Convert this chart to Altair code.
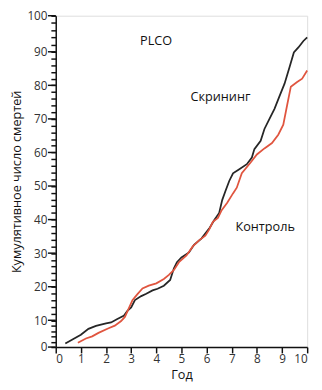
import altair as alt
import pandas as pd

# Screening (black) curve
scr_t = [0.38, 0.7, 1.0, 1.3, 1.6, 2.0, 2.2, 2.45, 2.7, 2.85, 3.0, 3.15, 3.4, 3.6, 3.85,
         4.05, 4.3, 4.55, 4.7, 4.82, 5.0, 5.3, 5.5, 5.8, 6.1, 6.3, 6.5, 6.62, 6.75, 6.9,
         7.05, 7.3, 7.6, 7.8, 7.9, 8.15, 8.3, 8.5, 8.7, 8.9, 9.1, 9.3, 9.47, 9.65, 9.85, 10.0]
scr_v = [1.3, 3.0, 4.6, 6.8, 7.9, 8.8, 9.2, 10.4, 11.3, 12.8, 13.8, 16.0, 17.2, 17.9, 18.9,
         19.4, 20.3, 22.0, 25.5, 27.3, 28.7, 30.2, 32.5, 34.4, 37.3, 39.8, 42.0, 45.8, 48.5, 51.5,
         53.8, 55.0, 56.5, 58.5, 61.0, 63.5, 67.0, 70.0, 73.0, 76.8, 80.5, 85.5, 89.8, 91.2, 93.0, 94.0]

# Control (red) curve
ctl_t = [0.88, 1.2, 1.45, 1.7, 2.1, 2.35, 2.6, 2.75, 2.9, 3.05, 3.25, 3.45, 3.7, 4.0, 4.3,
         4.5, 4.7, 4.9, 5.2, 5.45, 5.7, 5.95, 6.1, 6.25, 6.45, 6.6, 6.82, 7.05, 7.2, 7.4,
         7.75, 8.0, 8.3, 8.6, 8.85, 9.05, 9.2, 9.35, 9.6, 9.8, 10.0]
ctl_v = [1.6, 3.2, 4.0, 5.3, 7.0, 8.0, 9.7, 11.0, 13.5, 16.0, 17.8, 19.5, 20.3, 21.0, 22.3,
         23.5, 25.0, 27.3, 29.3, 32.0, 33.8, 35.2, 37.0, 39.3, 40.5, 42.8, 45.0, 47.8, 49.5, 53.8,
         57.0, 59.4, 61.2, 62.8, 65.3, 68.3, 74.0, 79.6, 81.0, 82.0, 84.4]

series_names = ["Скрининг", "Контроль"]
series_colors = ["#262626", "#e0553f"]

ann_text = ["PLCO", "Скрининг", "Контроль"]
ann_t = [3.99, 6.55, 8.33]
ann_v = [93.0, 76.4, 37.8]

x_ticks = list(range(0, 11))
y_minor = list(range(0, 101, 2))
y_major = list(range(0, 101, 10))

W, H = 258, 340

df = pd.concat([
    pd.DataFrame({"t": scr_t, "v": scr_v, "s": series_names[0], "o": range(len(scr_t))}),
    pd.DataFrame({"t": ctl_t, "v": ctl_v, "s": series_names[1], "o": range(len(ctl_t))}),
])
ann = pd.DataFrame({"t": ann_t, "v": ann_v, "label": ann_text})
major = pd.DataFrame({"v": y_major})

FONT = "Open Sans"
AX = "#111"

xscale = alt.Scale(domain=[0, 10], nice=False, zero=False)
yscale = alt.Scale(domain=[0, 10, 90, 100], range=[H, H - 27.5, 37, 0], nice=False, zero=False)

xaxis = alt.Axis(title="Год", values=x_ticks, format="d", grid=False, ticks=True, tickSize=6,
                 tickWidth=1.5, domainWidth=1.5,
                 labelPadding=1, labelFontSize=12, titleFontSize=13, titleFontWeight="normal",
                 titleX=W / 2, titleY=28, titleBaseline="middle", titleColor="#111",
                 labelColor="#333", domainColor=AX, tickColor=AX, labelFont=FONT,
                 titleFont=FONT)
yaxis = alt.Axis(title="Кумулятивное число смертей", values=y_minor,
                 labelExpr="datum.value % 10 === 0 ? datum.label : ''", labelOverlap=False,
                 grid=False, ticks=True, tickSize=5, tickWidth=1.5, domainWidth=1.5,
                 labelPadding=4, labelFontSize=12,
                 titleFontSize=13, titleFontWeight="normal",
                 titleX=-40, titleY=H / 2, titleAngle=-90, titleAlign="center",
                 titleBaseline="middle",
                 titleColor="#111", labelColor="#333", domainColor=AX, tickColor=AX,
                 labelFont=FONT, titleFont=FONT)

xenc = alt.X("t:Q", scale=xscale, axis=xaxis)
yenc = alt.Y("v:Q", scale=yscale, axis=yaxis)

lines = alt.Chart(df).mark_line(strokeWidth=1.8, interpolate="linear").encode(
    x=xenc,
    y=yenc,
    color=alt.Color("s:N", scale=alt.Scale(domain=series_names, range=series_colors), legend=None),
    order="o:Q",
)

major_ticks = alt.Chart(major).mark_rule(color=AX, strokeWidth=1.5).encode(
    y=yenc,
    x=alt.value(-8),
    x2=alt.value(0),
)

texts = alt.Chart(ann).mark_text(font=FONT, fontSize=13, color="#111").encode(
    x=xenc,
    y=yenc,
    text="label:N",
)

chart = alt.layer(lines, major_ticks, texts).properties(
    width=W, height=H,
    autosize=alt.AutoSizeParams(type="none"),
    padding={"left": 49, "top": 3, "right": 7, "bottom": 34},
).configure_view(stroke=None).configure(background="white")

chart.save("out.html", embed_options={"renderer": "svg", "actions": False})
